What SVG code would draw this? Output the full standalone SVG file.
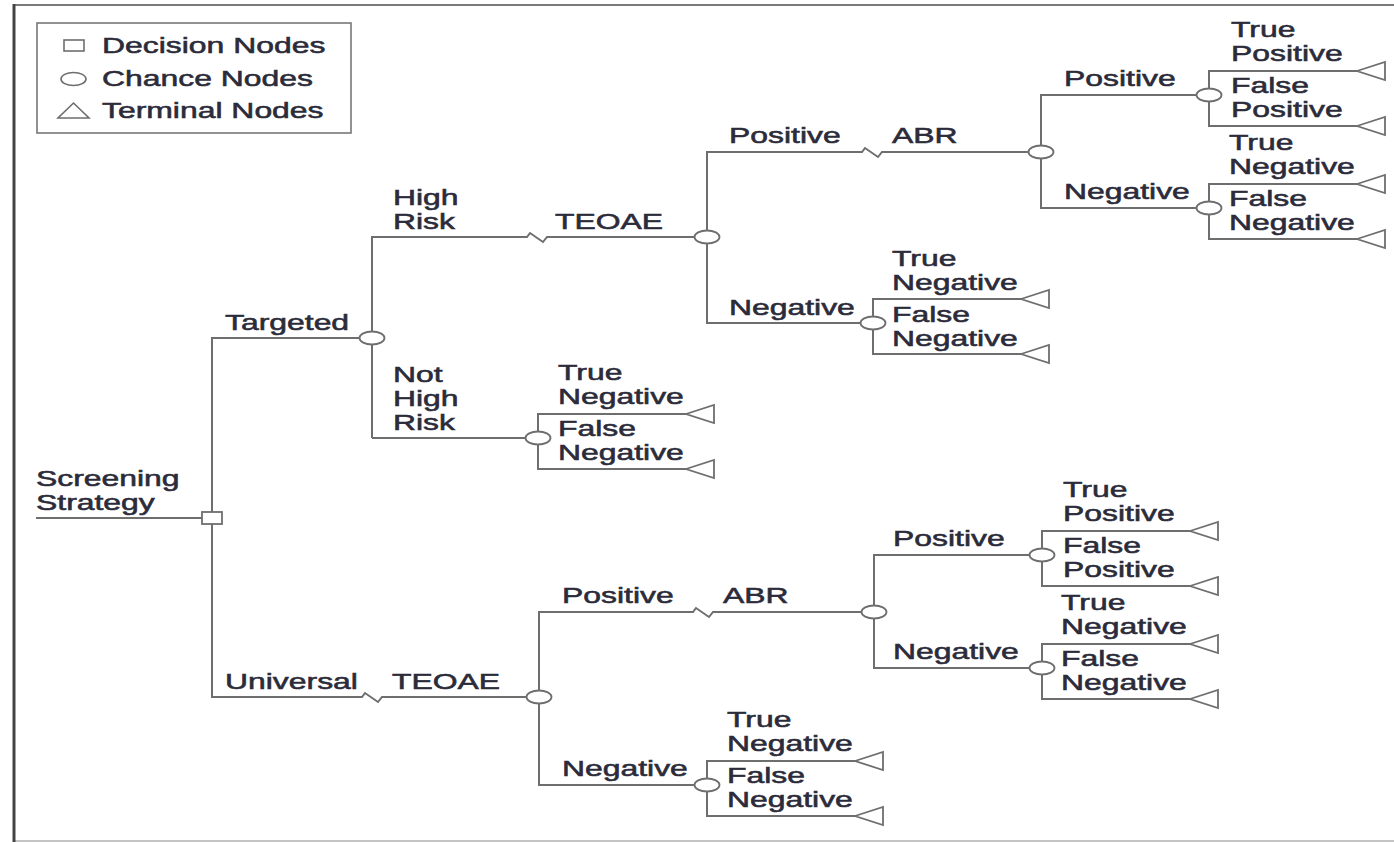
<svg xmlns="http://www.w3.org/2000/svg" xmlns:xlink="http://www.w3.org/1999/xlink" width="1394" height="842" viewBox="0 0 1394 842">
  <style>
    .ln { fill: none; stroke: #6e6e6e; stroke-width: 2; stroke-linejoin: miter; }
    .chance { fill: #ffffff; stroke: #6e6e6e; stroke-width: 1.8; }
    .decision { fill: #ffffff; stroke: #6e6e6e; stroke-width: 1.8; }
    .term { fill: #ffffff; stroke: #6e6e6e; stroke-width: 1.8; stroke-linejoin: miter; }
    .t { font-family: "Liberation Sans", Arial, sans-serif; font-size: 22px; fill: #2b2b3a; stroke: #2b2b3a; stroke-width: 0.55; }
  </style>
  <defs>
    <!-- terminal node: apex on the branch end, pointing left -->
    <path id="tri" class="term" d="M0,0 L28,-9 L28,9 Z"/>
    <ellipse id="cn" class="chance" cx="0" cy="0" rx="12.5" ry="6.5"/>
  </defs>

  <rect x="0" y="0" width="1394" height="842" fill="#ffffff"/>

  <!-- frame -->
  <g id="frame">
    <line x1="14" y1="5" x2="1394" y2="5" stroke="#7a7a7a" stroke-width="2"/>
    <line x1="14" y1="841" x2="1394" y2="841" stroke="#b0b0b0" stroke-width="1.5"/>
    <line x1="14" y1="4" x2="14" y2="842" stroke="#444444" stroke-width="3"/>
  </g>

  <!-- legend -->
  <g id="legend">
    <rect x="37" y="23" width="314" height="110" fill="#ffffff" stroke="#777777" stroke-width="1.6"/>
    <rect x="64" y="40" width="20" height="11" fill="#ffffff" stroke="#6e6e6e" stroke-width="1.6"/>
    <ellipse cx="73.5" cy="79" rx="12.5" ry="6.5" fill="#ffffff" stroke="#6e6e6e" stroke-width="1.6"/>
    <path d="M58,118 L89,118 L73.5,103 Z" fill="#ffffff" stroke="#6e6e6e" stroke-width="1.6"/>
    <text class="t" transform="translate(102 53) scale(1.45 1)">Decision Nodes</text>
    <text class="t" transform="translate(102 86) scale(1.45 1)">Chance Nodes</text>
    <text class="t" transform="translate(102 118) scale(1.45 1)">Terminal Nodes</text>
  </g>

  <!-- connectors -->
  <g id="connectors">
    <path class="ln" d="M36,518 H212"/>
    <path class="ln" d="M372,338 H212 V697 H362 L365,693 L378,702 L382,697 H539"/>
    <path class="ln" d="M372,438 V237 H527 L530,233 L543,242 L547,237 H707"/>
    <path class="ln" d="M372,438 H538"/>
    <path class="ln" d="M873,323 H707 V152 H862 L865,148 L878,157 L882,152 H1041"/>
    <path class="ln" d="M1209,95 H1041 V208 H1209"/>
    <path class="ln" d="M707,785 H539 V612 H693 L696,608 L709,617 L713,612 H874"/>
    <path class="ln" d="M1042,555 H874 V668 H1042"/>
    <!-- terminal brackets -->
    <path class="ln" d="M1357,71 H1209 V126 H1357"/>
    <path class="ln" d="M1357,184 H1209 V239 H1357"/>
    <path class="ln" d="M1021,299 H873 V354 H1021"/>
    <path class="ln" d="M686,414 H538 V469 H686"/>
    <path class="ln" d="M1190,531 H1042 V586 H1190"/>
    <path class="ln" d="M1190,644 H1042 V699 H1190"/>
    <path class="ln" d="M855,761 H707 V816 H855"/>
  </g>

  <!-- root decision -->
  <g id="root">
    <rect class="decision" x="202" y="512" width="20" height="12"/>
    <text class="t" transform="translate(36 486) scale(1.45 1)"><tspan x="0" y="0">Screening</tspan><tspan x="0" y="24">Strategy</tspan></text>
  </g>

  <g id="targeted">
    <use href="#cn" x="372" y="338"/>
    <text class="t" transform="translate(225 330) scale(1.45 1)">Targeted</text>
  </g>

  <g id="universal-teoae">
    <use href="#cn" x="539" y="697"/>
    <text class="t" transform="translate(225 689) scale(1.45 1)">Universal</text>
    <text class="t" transform="translate(392 689) scale(1.45 1)">TEOAE</text>
  </g>

  <g id="high-risk-teoae">
    <use href="#cn" x="707" y="237"/>
    <text class="t" transform="translate(393 205) scale(1.45 1)"><tspan x="0" y="0">High</tspan><tspan x="0" y="24">Risk</tspan></text>
    <text class="t" transform="translate(555 229) scale(1.45 1)">TEOAE</text>
  </g>

  <g id="high-risk-abr">
    <use href="#cn" x="1041" y="152"/>
    <text class="t" transform="translate(729 143) scale(1.45 1)">Positive</text>
    <text class="t" transform="translate(892 143) scale(1.45 1)">ABR</text>
  </g>

  <g id="high-risk-abr-positive">
    <use href="#cn" x="1209" y="95"/>
    <text class="t" transform="translate(1064 86) scale(1.45 1)">Positive</text>
    <use href="#tri" x="1357" y="71"/>
    <use href="#tri" x="1357" y="126"/>
    <text class="t" transform="translate(1231 37) scale(1.45 1)"><tspan x="0" y="0">True</tspan><tspan x="0" y="24">Positive</tspan><tspan x="0" y="56">False</tspan><tspan x="0" y="80">Positive</tspan></text>
  </g>

  <g id="high-risk-abr-negative">
    <use href="#cn" x="1209" y="208"/>
    <text class="t" transform="translate(1064 199) scale(1.45 1)">Negative</text>
    <use href="#tri" x="1357" y="184"/>
    <use href="#tri" x="1357" y="239"/>
    <text class="t" transform="translate(1229 150) scale(1.45 1)"><tspan x="0" y="0">True</tspan><tspan x="0" y="24">Negative</tspan><tspan x="0" y="56">False</tspan><tspan x="0" y="80">Negative</tspan></text>
  </g>

  <g id="high-risk-teoae-negative">
    <use href="#cn" x="873" y="323"/>
    <text class="t" transform="translate(729 315) scale(1.45 1)">Negative</text>
    <use href="#tri" x="1021" y="299"/>
    <use href="#tri" x="1021" y="354"/>
    <text class="t" transform="translate(892 266) scale(1.45 1)"><tspan x="0" y="0">True</tspan><tspan x="0" y="24">Negative</tspan><tspan x="0" y="56">False</tspan><tspan x="0" y="80">Negative</tspan></text>
  </g>

  <g id="not-high-risk">
    <use href="#cn" x="538" y="438"/>
    <text class="t" transform="translate(393 382) scale(1.45 1)"><tspan x="0" y="0">Not</tspan><tspan x="0" y="24">High</tspan><tspan x="0" y="48">Risk</tspan></text>
    <use href="#tri" x="686" y="414"/>
    <use href="#tri" x="686" y="469"/>
    <text class="t" transform="translate(558 380) scale(1.45 1)"><tspan x="0" y="0">True</tspan><tspan x="0" y="24">Negative</tspan><tspan x="0" y="56">False</tspan><tspan x="0" y="80">Negative</tspan></text>
  </g>

  <g id="universal-abr">
    <use href="#cn" x="874" y="612"/>
    <text class="t" transform="translate(562 603) scale(1.45 1)">Positive</text>
    <text class="t" transform="translate(723 603) scale(1.45 1)">ABR</text>
  </g>

  <g id="universal-abr-positive">
    <use href="#cn" x="1042" y="555"/>
    <text class="t" transform="translate(893 546) scale(1.45 1)">Positive</text>
    <use href="#tri" x="1190" y="531"/>
    <use href="#tri" x="1190" y="586"/>
    <text class="t" transform="translate(1063 497) scale(1.45 1)"><tspan x="0" y="0">True</tspan><tspan x="0" y="24">Positive</tspan><tspan x="0" y="56">False</tspan><tspan x="0" y="80">Positive</tspan></text>
  </g>

  <g id="universal-abr-negative">
    <use href="#cn" x="1042" y="668"/>
    <text class="t" transform="translate(893 659) scale(1.45 1)">Negative</text>
    <use href="#tri" x="1190" y="644"/>
    <use href="#tri" x="1190" y="699"/>
    <text class="t" transform="translate(1061 610) scale(1.45 1)"><tspan x="0" y="0">True</tspan><tspan x="0" y="24">Negative</tspan><tspan x="0" y="56">False</tspan><tspan x="0" y="80">Negative</tspan></text>
  </g>

  <g id="universal-teoae-negative">
    <use href="#cn" x="707" y="785"/>
    <text class="t" transform="translate(562 776) scale(1.45 1)">Negative</text>
    <use href="#tri" x="855" y="761"/>
    <use href="#tri" x="855" y="816"/>
    <text class="t" transform="translate(727 727) scale(1.45 1)"><tspan x="0" y="0">True</tspan><tspan x="0" y="24">Negative</tspan><tspan x="0" y="56">False</tspan><tspan x="0" y="80">Negative</tspan></text>
  </g>
</svg>
